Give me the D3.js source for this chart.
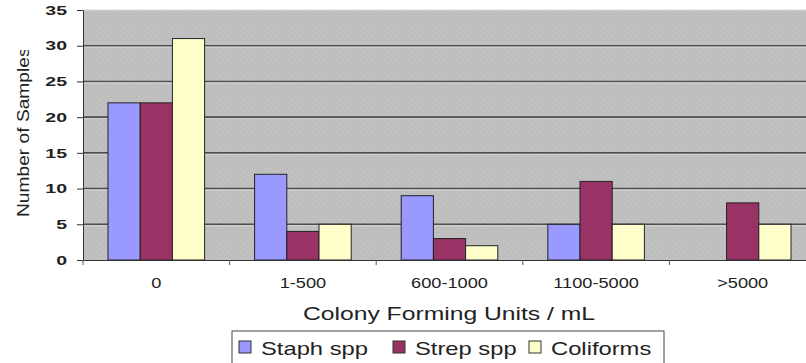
<!DOCTYPE html>
<html>
<head>
<meta charset="utf-8">
<script src="https://cdn.jsdelivr.net/npm/d3@7"></script>
<style>
  body { margin: 0; background: #fff; }
  svg { display: block; font-family: "Liberation Sans", Arial, sans-serif; }
</style>
</head>
<body>
<svg id="chart"></svg>
<script>
const categories = ['0', '1-500', '600-1000', '1100-5000', '>5000'];
const seriesNames = ['Staph spp', 'Strep spp', 'Coliforms'];
const staph = [22, 12, 9, 5, 0];
const strep = [22, 4, 3, 11, 8];
const coliforms = [31, 5, 2, 5, 5];
const yTicks = [0, 5, 10, 15, 20, 25, 30, 35];

const colors = ['#9999ff', '#993366', '#ffffcc'];

const width = 806, height = 363;
// plot area runs a little past the right edge, like the original crop
const margin = {top: 10, right: -10, bottom: 103, left: 83};
const innerW = width - margin.left - margin.right;
const innerH = height - margin.top - margin.bottom;

// the source image is stretched sideways, so text is too
const stretchY = 1.5, stretchX = 1.3, stretchT = 1.3;

const svg = d3.select('#chart').attr('width', width).attr('height', height);

const defs = svg.append('defs');
const bgPat = defs.append('pattern')
    .attr('id', 'speckle').attr('width', 6).attr('height', 6)
    .attr('patternUnits', 'userSpaceOnUse');
bgPat.append('rect').attr('width', 6).attr('height', 6).attr('fill', '#bebebe');
bgPat.append('rect').attr('x', 1).attr('y', 2).attr('width', 1).attr('height', 1).attr('fill', '#cdcdcd');
bgPat.append('rect').attr('x', 4).attr('y', 5).attr('width', 1).attr('height', 1).attr('fill', '#cbcbcb');

defs.append('clipPath').attr('id', 'ytitle-clip')
    .append('rect').attr('x', 0).attr('y', 50).attr('width', 60).attr('height', 250);

const chart = svg.append('g')
    .attr('transform', `translate(${margin.left}, ${margin.top})`);

const data = categories.map((c, i) => ({
    cat: c,
    values: [staph[i], strep[i], coliforms[i]]
}));

const x0 = d3.scaleBand().domain(categories).range([0, innerW]).paddingInner(0).paddingOuter(0);
const x1 = d3.scaleBand().domain(seriesNames).range([25, x0.bandwidth() - 25]).padding(0);
const y = d3.scaleLinear().domain([0, 35]).range([innerH, 0]);

// background
chart.append('rect')
    .attr('width', innerW).attr('height', innerH)
    .attr('fill', 'url(#speckle)');
chart.append('line')
    .attr('x1', 0).attr('x2', innerW).attr('y1', 0).attr('y2', 0)
    .attr('stroke', '#d8d8d8');

// gridlines
const grid = chart.append('g');
yTicks.filter(t => t > 0 && t < 35).forEach(t => {
    grid.append('line')
        .attr('x1', 0).attr('x2', innerW)
        .attr('y1', y(t)).attr('y2', y(t))
        .attr('stroke', '#4d4d4d').attr('stroke-width', 1.6);
    grid.append('line')
        .attr('x1', 0).attr('x2', innerW)
        .attr('y1', y(t) + 1.5).attr('y2', y(t) + 1.5)
        .attr('stroke', '#d6d6d6').attr('stroke-width', 1);
});

// bars
const groups = chart.selectAll('.grp')
    .data(data)
    .join('g')
    .attr('class', 'grp')
    .attr('transform', d => `translate(${x0(d.cat)}, 0)`);

groups.selectAll('rect')
    .data(d => d.values.map((v, i) => ({name: seriesNames[i], value: v, idx: i})))
    .join('rect')
    .filter(d => d.value > 0)
    .attr('x', d => x1(d.name))
    .attr('y', d => y(d.value))
    .attr('width', x1.bandwidth())
    .attr('height', d => innerH - y(d.value))
    .attr('fill', d => colors[d.idx])
    .attr('stroke', '#222')
    .attr('stroke-width', 1);

// axes
const yAxis = d3.axisLeft(y).tickValues(yTicks).tickSize(6).tickSizeOuter(0);
const yg = chart.append('g').call(yAxis);
yg.select('.domain').attr('stroke', '#333');
yg.selectAll('.tick line').attr('stroke', '#333');
yg.selectAll('.tick text')
    .attr('x', -16 / stretchY)
    .attr('transform', `scale(${stretchY}, 1)`)
    .attr('font-size', 13).attr('fill', '#222').attr('font-weight', 'bold');

const xAxis = d3.axisBottom(x0).tickSize(0).tickPadding(18).tickSizeOuter(0);
const xg = chart.append('g').attr('transform', `translate(0, ${innerH})`).call(xAxis);
xg.select('.domain').attr('stroke', '#333');
xg.selectAll('.tick text')
    .attr('transform', `scale(${stretchX}, 1)`)
    .attr('font-size', 14).attr('fill', '#222');
// category separators
xg.selectAll('.sep')
    .data(categories)
    .join('line')
    .attr('class', 'sep')
    .attr('x1', d => x0(d)).attr('x2', d => x0(d))
    .attr('y1', 0).attr('y2', 5)
    .attr('stroke', '#555');

// axis titles
svg.append('g')
    .attr('clip-path', 'url(#ytitle-clip)')
    .append('text')
    .attr('transform', `translate(29, 217) rotate(-90) scale(1.2, 1)`)
    .attr('text-anchor', 'start')
    .attr('font-size', 16)
    .attr('fill', '#222')
    .text('Number of Samples');

svg.append('text')
    .attr('transform', `translate(449, 320) scale(${stretchT}, 1)`)
    .attr('text-anchor', 'middle')
    .attr('font-size', 19)
    .attr('fill', '#222')
    .text('Colony Forming Units / mL');

// legend
const legend = svg.append('g').attr('transform', 'translate(232, 331)');
legend.append('rect')
    .attr('width', 432).attr('height', 40)
    .attr('fill', '#fff').attr('stroke', '#444').attr('stroke-width', 1);
const legendX = [7, 161, 297];
seriesNames.forEach((name, i) => {
    const item = legend.append('g').attr('transform', `translate(${legendX[i]}, 0)`);
    item.append('rect')
        .attr('x', 0).attr('y', 10).attr('width', 12).attr('height', 12)
        .attr('fill', colors[i]).attr('stroke', '#333');
    item.append('text')
        .attr('transform', `translate(22, 24) scale(1.25, 1)`)
        .attr('font-size', 19)
        .attr('fill', '#222')
        .text(name);
});
</script>
</body>
</html>
